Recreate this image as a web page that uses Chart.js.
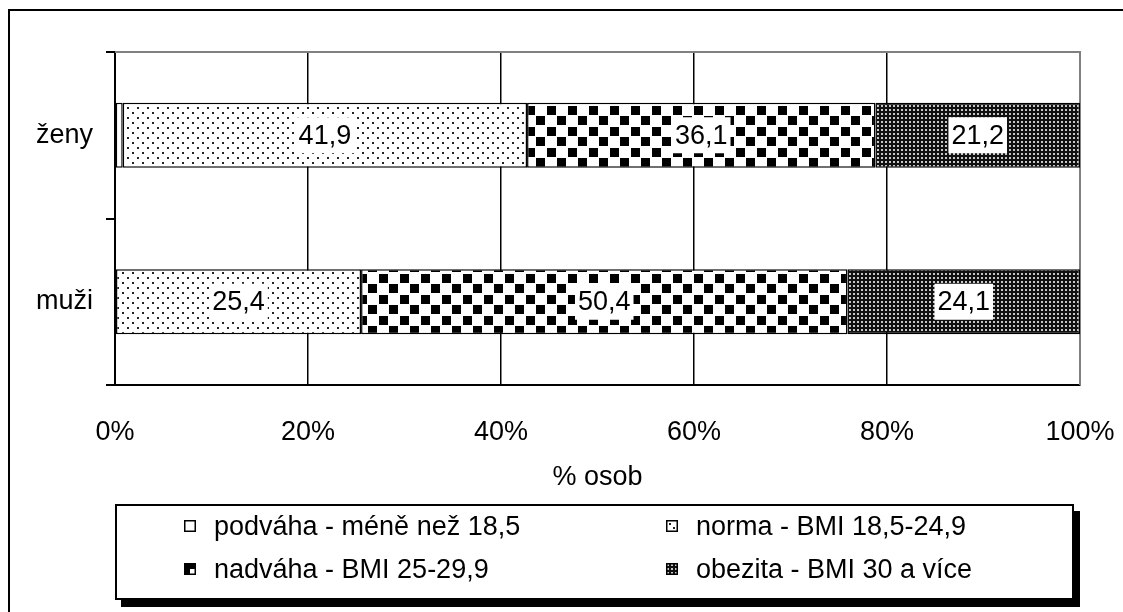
<!DOCTYPE html>
<html>
<head>
<meta charset="utf-8">
<script src="https://cdn.jsdelivr.net/npm/chart.js@4/dist/chart.umd.min.js"></script>
<style>
  html, body { margin:0; padding:0; background:#fff; overflow:hidden; }
  body { width:1123px; height:612px; position:relative; font-family:"Liberation Sans", Arial, sans-serif; }
  #frame { position:absolute; left:8px; top:9px; width:1300px; height:800px; border:2px solid #000; box-sizing:border-box; }
  #wrap { position:absolute; left:0; top:0; width:1123px; height:612px; }
  #legend { position:absolute; left:115px; top:504px; width:959px; height:96px; border:2px solid #000; box-sizing:border-box; background:#fff; box-shadow:6px 7px 0 #000; }
  .item { position:absolute; display:flex; align-items:center; font-size:27px; line-height:30px; color:#000; white-space:nowrap; }
  .item canvas { margin-right:18px; }
</style>
</head>
<body>
<div id="frame"></div>
<div id="wrap"><canvas id="c" width="1123" height="612"></canvas></div>
<div id="legend"></div>
<script>
const categories = ['ženy', 'muži'];
const seriesLabels = ['podváha - méně než 18,5', 'norma - BMI 18,5-24,9', 'nadváha - BMI 25-29,9', 'obezita - BMI 30 a více'];
const podvaha = [0.8, 0.1];
const norma = [41.9, 25.4];
const nadvaha = [36.1, 50.4];
const obezita = [21.2, 24.1];
const xTickLabels = ['0%', '20%', '40%', '60%', '80%', '100%'];
const xTitle = '% osob';

const FONT = '"Liberation Sans", Arial, sans-serif';

function makeTile(w, h, draw) {
  const c = document.createElement('canvas');
  c.width = w; c.height = h;
  const g = c.getContext('2d');
  draw(g);
  return c;
}
const tiles = [
  makeTile(4, 4, g => { g.fillStyle = '#fff'; g.fillRect(0, 0, 4, 4); }),
  makeTile(10, 10, g => {
    g.fillStyle = '#fff'; g.fillRect(0, 0, 10, 10);
    g.fillStyle = '#222';
    g.fillRect(2, 2, 2, 2); g.fillRect(7, 7, 2, 2);
  }),
  makeTile(21, 21, g => {
    g.fillStyle = '#fff'; g.fillRect(0, 0, 21, 21);
    g.fillStyle = '#000';
    g.fillRect(1, 1, 9, 9); g.fillRect(11, 11, 9, 9);
  }),
  makeTile(4, 4, g => {
    g.fillStyle = '#111'; g.fillRect(0, 0, 4, 4);
    g.fillStyle = '#c8c8c8'; g.fillRect(1, 1, 2, 2);
  })
];
const ctx = document.getElementById('c').getContext('2d');
const patterns = tiles.map(t => ctx.createPattern(t, 'repeat'));

const seriesValues = [podvaha, norma, nadvaha, obezita];

const fmt = v => v.toFixed(1).replace('.', ',');

const labelPlugin = {
  id: 'segLabels',
  afterDatasetsDraw(chart) {
    const c = chart.ctx;
    c.save();
    c.font = '27px ' + FONT;
    c.textAlign = 'center';
    c.textBaseline = 'middle';
    chart.data.datasets.forEach((ds, di) => {
      if (di === 0) return;
      const meta = chart.getDatasetMeta(di);
      meta.data.forEach((el, i) => {
        const p = el.getCenterPoint();
        const t = fmt(ds.data[i]);
        const w = c.measureText(t).width + 6;
        const h = 36;
        c.fillStyle = '#fff';
        c.fillRect(p.x - w / 2, p.y - h / 2, w, h);
        c.fillStyle = '#000';
        c.fillText(t, p.x, p.y + 1);
      });
    });
    c.restore();
  }
};
const borderPlugin = {
  id: 'plotBorder',
  beforeDatasetsDraw(chart) {
    const a = chart.chartArea;
    const c = chart.ctx;
    c.save();
    c.strokeStyle = '#808080';
    c.lineWidth = 2;
    c.beginPath();
    c.moveTo(a.left, a.top);
    c.lineTo(a.right, a.top);
    c.lineTo(a.right, a.bottom);
    c.stroke();
    c.restore();
  }
};

new Chart(ctx, {
  type: 'bar',
  data: {
    labels: categories,
    datasets: seriesValues.map((vals, i) => ({
      label: seriesLabels[i],
      data: vals,
      backgroundColor: patterns[i],
      borderColor: '#000',
      borderWidth: 1.5,
      borderSkipped: false,
      barPercentage: 0.39,
      categoryPercentage: 1
    }))
  },
  options: {
    indexAxis: 'y',
    responsive: false,
    animation: false,
    layout: { padding: { left: 0, top: 52, right: 43, bottom: 118 } },
    plugins: { legend: { display: false }, tooltip: { enabled: false } },
    scales: {
      x: {
        stacked: true,
        min: 0, max: 100,
        ticks: {
          stepSize: 20,
          color: '#000',
          font: { family: FONT, size: 27 },
          padding: 31,
          callback: (v, i) => xTickLabels[i]
        },
        grid: {
          drawTicks: false,
          color: c => c.index === xTickLabels.length - 1 ? '#808080' : '#000',
          lineWidth: 1.5
        },
        border: { display: true, color: '#000', width: 2 },
        title: { display: true, text: xTitle, color: '#000', font: { family: FONT, size: 27 }, padding: 0 },
        afterFit: s => { s.height = 109; s.paddingLeft = 0; s.paddingRight = 0; }
      },
      y: {
        stacked: true,
        ticks: { color: '#000', font: { family: FONT, size: 27 }, padding: 13 },
        grid: { drawOnChartArea: false, drawTicks: true, tickLength: 9, color: '#000', lineWidth: 2 },
        border: { display: true, color: '#000', width: 2 },
        afterFit: s => { s.width = 115; }
      }
    }
  },
  plugins: [borderPlugin, labelPlugin]
});

// HTML legend built from series labels, swatches use the same patterns
const legend = document.getElementById('legend');
const pos = [
  { left: 67, top: 5 },   // podváha
  { left: 549, top: 5 },  // norma
  { left: 67, top: 48 },  // nadváha
  { left: 549, top: 48 }  // obezita
];
seriesLabels.forEach((lab, i) => {
  const d = document.createElement('div');
  d.className = 'item';
  d.style.left = pos[i].left + 'px';
  d.style.top = pos[i].top + 'px';
  const sw = document.createElement('canvas');
  sw.width = 12; sw.height = 12;
  const g = sw.getContext('2d');
  g.fillStyle = g.createPattern(tiles[i], 'repeat');
  g.fillRect(0, 0, 12, 12);
  if (i === 2) { g.fillStyle = '#000'; g.fillRect(0, 0, 12, 12); g.fillStyle = '#fff'; g.fillRect(6, 6, 5, 5); }
  if (i === 1) { g.fillStyle = '#fff'; g.fillRect(0, 0, 12, 12); g.fillStyle = '#222'; g.fillRect(3, 3, 2, 2); g.fillRect(7, 7, 2, 2); }
  g.strokeStyle = '#000'; g.lineWidth = 1.5;
  g.strokeRect(0.75, 0.75, 10.5, 10.5);
  d.appendChild(sw);
  const s = document.createElement('span');
  s.textContent = lab;
  d.appendChild(s);
  legend.appendChild(d);
});
</script>
</body>
</html>
